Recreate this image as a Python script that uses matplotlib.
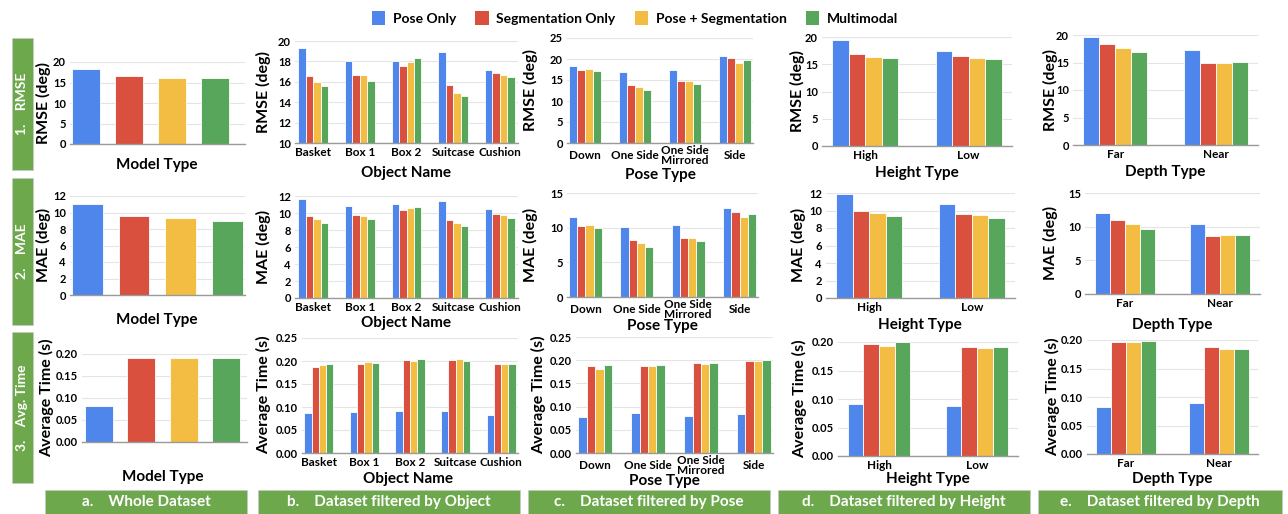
import matplotlib
matplotlib.use('Agg')
import matplotlib.pyplot as plt
from matplotlib.patches import Patch, Rectangle
from matplotlib.ticker import FormatStrFormatter
import numpy as np

plt.rcParams['font.family'] = ['Lato', 'DejaVu Sans']
plt.rcParams['font.weight'] = 'bold'

W, H = 1288, 514

series = ['Pose Only', 'Segmentation Only', 'Pose + Segmentation', 'Multimodal']
colors = ['#4f86ec', '#d9503f', '#f2bd42', '#58a65c']
green_box = '#6ea84c'

# ---- a. Whole dataset (one bar per model) ----
whole_rmse = [18.4, 16.5, 16.2, 16.0]
whole_mae = [11.0, 9.55, 9.35, 9.03]
whole_time = [0.082, 0.190, 0.190, 0.192]

# ---- b. filtered by object: [pose, seg, pose+seg, multimodal] ----
objects = ['Basket', 'Box 1', 'Box 2', 'Suitcase', 'Cushion']
obj_rmse = [[19.35, 18.05, 18.05, 18.93, 17.20],
            [16.56, 16.66, 17.53, 15.69, 16.88],
            [15.94, 16.66, 17.99, 14.94, 16.69],
            [15.55, 16.04, 18.38, 14.64, 16.43]]
obj_mae = [[11.69, 10.86, 11.10, 11.45, 10.47],
           [9.61, 9.73, 10.31, 9.18, 9.84],
           [9.25, 9.65, 10.63, 8.82, 9.73],
           [8.82, 9.25, 10.70, 8.47, 9.45]]
obj_time = [[0.088, 0.090, 0.092, 0.091, 0.083],
            [0.188, 0.194, 0.203, 0.203, 0.193],
            [0.191, 0.198, 0.201, 0.204, 0.193],
            [0.194, 0.196, 0.204, 0.201, 0.194]]

# ---- c. filtered by pose ----
poses = ['Down', 'One Side', 'One Side\nMirrored', 'Side']
pose_rmse = [[18.4, 17.0, 17.3, 20.8],
             [17.4, 13.9, 14.7, 20.2],
             [17.6, 13.3, 14.7, 19.1],
             [17.1, 12.7, 14.0, 19.8]]
pose_mae = [[11.47, 10.16, 10.45, 12.82],
            [10.26, 8.22, 8.47, 12.24],
            [10.45, 7.74, 8.51, 11.52],
            [9.97, 7.16, 8.03, 12.00]]
pose_time = [[0.078, 0.086, 0.080, 0.083],
             [0.187, 0.188, 0.193, 0.198],
             [0.182, 0.188, 0.191, 0.198],
             [0.190, 0.190, 0.195, 0.200]]

# ---- d. filtered by height ----
heights = ['High', 'Low']
height_rmse = [[19.5, 17.5], [16.8, 16.55], [16.4, 16.2], [16.1, 15.9]]
height_mae = [[11.9, 10.69], [9.96, 9.58], [9.66, 9.46], [9.35, 9.12]]
height_time = [[0.091, 0.088], [0.196, 0.1906], [0.193, 0.1895], [0.1995, 0.1906]]

# ---- e. filtered by depth ----
depths = ['Far', 'Near']
depth_rmse = [[19.7, 17.2], [18.4, 14.9], [17.65, 15.0], [17.0, 15.06]]
depth_mae = [[12.03, 10.45], [10.94, 8.66], [10.4, 8.76], [9.7, 8.71]]
depth_time = [[0.082, 0.089], [0.1965, 0.187], [0.196, 0.185], [0.1988, 0.185]]

row_labels = ['1.    RMSE', '2.    MAE', '3.    Avg. Time']
col_labels = ['a.    Whole Dataset', 'b.    Dataset filtered by Object',
              'c.    Dataset filtered by Pose', 'd.    Dataset filtered by Height',
              'e.    Dataset filtered by Depth']

fig = plt.figure(figsize=(W / 100, H / 100), dpi=100)


def px_axes(xl, xr, yt, yb):
    return fig.add_axes([xl / W, 1 - yb / H, (xr - xl) / W, (yb - yt) / H])


def ftext(x, y, s, **kw):
    fig.text(x / W, 1 - y / H, s, **kw)


def style(ax, lo, hi, step, fmt=None):
    ax.set_ylim(lo, hi)
    ax.set_yticks(np.arange(lo, hi + step / 2, step))
    if fmt:
        ax.yaxis.set_major_formatter(FormatStrFormatter(fmt))
    ax.grid(axis='y', color='#e4e4e4', lw=0.8)
    ax.set_axisbelow(True)
    for s in ['top', 'right', 'left']:
        ax.spines[s].set_visible(False)
    ax.spines['bottom'].set_color('#9a9a9a')
    ax.spines['bottom'].set_linewidth(1.0)
    ax.tick_params(axis='y', length=0, labelsize=8, pad=3)
    ax.tick_params(axis='x', length=0, labelsize=8.5, pad=3)


def grouped(ax, cats, vals, width=0.16, margin=0.08, centered=False):
    x = np.arange(len(cats))
    for i, (v, c) in enumerate(zip(vals, colors)):
        ax.bar(x + (i - 1.5) * width, v, width, color=c, edgecolor='white', linewidth=0.6)
    ax.set_xticks(x)
    ax.set_xticklabels(cats, linespacing=0.85)
    if centered:
        for t in ax.get_xticklabels():
            t.set_va('center')
        ax.tick_params(axis='x', pad=9)
    ax.set_xlim(-2 * width - margin, len(cats) - 1 + 2 * width + margin)


def single(ax, vals, xlim):
    x = np.arange(len(vals))
    ax.bar(x, vals, 0.66, color=colors, edgecolor='white', linewidth=0.6)
    ax.set_xticks([])
    ax.set_xlim(*xlim)


# ---------- column a ----------
ax = px_axes(70, 245, 62, 144)
single(ax, whole_rmse, (-0.37, 3.7))
style(ax, 0, 20, 5)
ax = px_axes(70, 245, 196, 295)
single(ax, whole_mae, (-0.37, 3.38))
style(ax, 0, 12, 2)
ax = px_axes(82, 247, 354, 442)
single(ax, whole_time, (-0.4, 3.5))
style(ax, 0, 0.20, 0.05, '%.2f')

# ---------- column b ----------
ax = px_axes(295, 518, 41, 143)
grouped(ax, objects, obj_rmse, margin=0.07)
style(ax, 10, 20, 2)
ax = px_axes(295, 518, 196, 298)
grouped(ax, objects, obj_mae, margin=0.07)
style(ax, 0, 12, 2)
ax = px_axes(302, 518, 338, 453)
grouped(ax, objects, obj_time, margin=0.05)
style(ax, 0, 0.25, 0.05, '%.2f')

# ---------- column c ----------
ax = px_axes(567, 753, 38, 143)
style(ax, 0, 25, 5)
grouped(ax, poses, pose_rmse, margin=0.03, centered=True)
ax = px_axes(567, 758, 193, 297)
style(ax, 0, 15, 5)
grouped(ax, poses, pose_mae, margin=0.04, centered=True)
ax = px_axes(576, 773, 337, 453)
style(ax, 0, 0.25, 0.05, '%.2f')
grouped(ax, poses, pose_time, margin=0.04, centered=True)

# ---------- column d ----------
ax = px_axes(822, 1012, 37, 146)
grouped(ax, heights, height_rmse, margin=0.1)
style(ax, 0, 20, 5)
ax = px_axes(826, 1015, 193, 298)
grouped(ax, heights, height_mae, margin=0.1)
style(ax, 0, 12, 2)
ax = px_axes(838, 1018, 342, 456)
grouped(ax, heights, height_time, margin=0.1)
style(ax, 0, 0.20, 0.05, '%.2f')

# ---------- column e ----------
ax = px_axes(1073, 1258, 35, 145)
grouped(ax, depths, depth_rmse, margin=0.1)
style(ax, 0, 20, 5)
ax = px_axes(1085, 1260, 193, 294)
grouped(ax, depths, depth_mae, margin=0.1)
style(ax, 0, 15, 5)
ax = px_axes(1087, 1258, 340, 454)
grouped(ax, depths, depth_time, margin=0.1)
style(ax, 0, 0.20, 0.05, '%.2f')

# ---------- axis titles (x) ----------
lab = dict(fontsize=11, fontweight='bold', ha='center', va='center')
xl_specs = [(157, 165, 'Model Type'), (157, 320, 'Model Type'), (163, 477, 'Model Type'),
            (406, 173, 'Object Name'), (406, 323, 'Object Name'), (408, 479, 'Object Name'),
            (660, 175, 'Pose Type'), (662, 326, 'Pose Type'), (664, 481, 'Pose Type'),
            (917, 173, 'Height Type'), (920, 325, 'Height Type'), (928, 479, 'Height Type'),
            (1165, 172, 'Depth Type'), (1172, 325, 'Depth Type'), (1172, 479, 'Depth Type')]
for x, y, s in xl_specs:
    ftext(x, y, s, **lab)

# ---------- axis titles (y) ----------
ylab = dict(lab, fontsize=11.5)
yl_specs = [(43, 103, 'RMSE (deg)'), (43, 245, 'MAE (deg)'), (47, 398, 'Average Time (s)'),
            (263, 92, 'RMSE (deg)'), (263, 247, 'MAE (deg)'), (264, 395, 'Average Time (s)'),
            (530, 90, 'RMSE (deg)'), (530, 245, 'MAE (deg)'), (539, 395, 'Average Time (s)'),
            (797, 91, 'RMSE (deg)'), (798, 245, 'MAE (deg)'), (800, 399, 'Average Time (s)'),
            (1050, 90, 'RMSE (deg)'), (1050, 243, 'MAE (deg)'), (1053, 397, 'Average Time (s)')]
for x, y, s in yl_specs:
    ftext(x, y, s, rotation=90, **ylab)

# ---------- green label boxes ----------
row_boxes = [(38, 170), (178, 325), (332, 483)]
for (yt, yb), s in zip(row_boxes, row_labels):
    fig.add_artist(Rectangle((12 / W, 1 - yb / H), 21 / W, (yb - yt) / H,
                             transform=fig.transFigure, facecolor=green_box,
                             edgecolor='#c8c8c8', linewidth=0.5))
    ftext(22.5, (yt + yb) / 2, s, rotation=90, color='white', fontsize=10,
          fontweight='bold', ha='center', va='center')

col_boxes = [(45, 247), (258, 520), (528, 770), (778, 1030), (1038, 1282)]
for (xl, xr), s in zip(col_boxes, col_labels):
    fig.add_artist(Rectangle((xl / W, 0), (xr - xl) / W, 24 / H,
                             transform=fig.transFigure, facecolor=green_box,
                             edgecolor='#c8c8c8', linewidth=0.5))
    ftext((xl + xr) / 2, 502, s, color='white', fontsize=11,
          fontweight='bold', ha='center', va='center')

# ---------- legend ----------
handles = [Patch(facecolor=c, edgecolor='none') for c in colors]
fig.legend(handles, series, loc='center', bbox_to_anchor=(635 / W, 1 - 18 / H),
           ncol=4, frameon=False, prop={'weight': 'bold', 'size': 10},
           handlelength=0.95, handleheight=1.1, columnspacing=1.4, handletextpad=0.55)

fig.savefig('out.png', dpi=100)
